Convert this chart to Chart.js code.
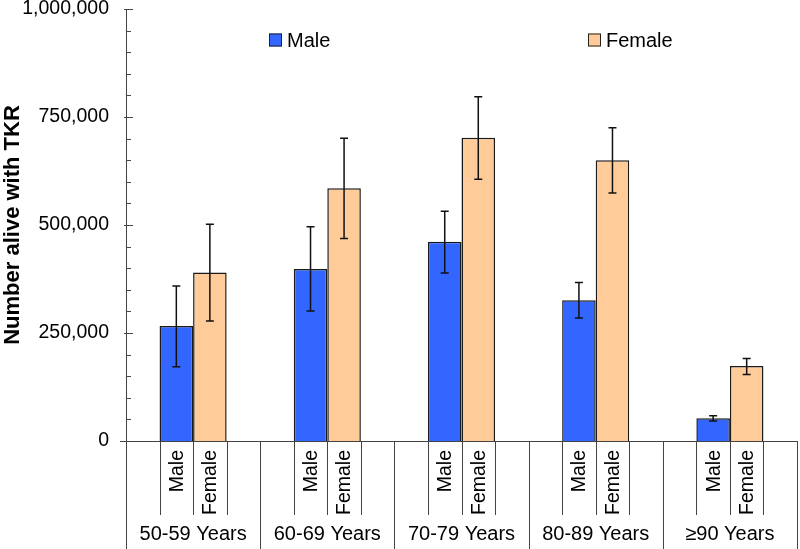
<!DOCTYPE html>
<html>
<head>
<meta charset="utf-8">
<script src="https://cdn.jsdelivr.net/npm/chart.js@4/dist/chart.umd.min.js"></script>
<style>
  html, body { margin: 0; padding: 0; background: #fff; }
  #wrap { width: 800px; height: 549px; }
</style>
</head>
<body>
<div id="wrap"><canvas id="chart"></canvas></div>
<script>
var groups = ['50-59 Years', '60-69 Years', '70-79 Years', '80-89 Years', '\u226590 Years'];
var seriesNames = ['Male', 'Female'];
var maleValues = [266000, 398000, 461000, 326000, 52500];
var maleLow = [172000, 301000, 389000, 285000, 46300];
var maleHigh = [359000, 496000, 532000, 367000, 58600];
var femaleValues = [390000, 585000, 702000, 650000, 173600];
var femaleLow = [278000, 469000, 606000, 574000, 154000];
var femaleHigh = [502000, 701000, 797000, 725000, 191000];
var yTicks = [0, 250000, 500000, 750000, 1000000];

var FONT = "'Liberation Sans', Arial, sans-serif";
var AXIS = '#444';

// error bars on top of the bars
var errorBars = {
	id: 'errorBars',
	afterDatasetsDraw: function(chart) {
		var ctx = chart.ctx, y = chart.scales.y;
		var ranges = [[maleLow, maleHigh], [femaleLow, femaleHigh]];
		ctx.save();
		ctx.strokeStyle = '#111';
		ctx.lineWidth = 1.5;
		chart.data.datasets.forEach(function(ds, di) {
			chart.getDatasetMeta(di).data.forEach(function(bar, i) {
				var yl = y.getPixelForValue(ranges[di][0][i]);
				var yh = y.getPixelForValue(ranges[di][1][i]);
				ctx.beginPath();
				ctx.moveTo(bar.x, yl); ctx.lineTo(bar.x, yh);
				ctx.moveTo(bar.x - 4, yl); ctx.lineTo(bar.x + 4, yl);
				ctx.moveTo(bar.x - 4, yh); ctx.lineTo(bar.x + 4, yh);
				ctx.stroke();
			});
		});
		ctx.restore();
	}
};

// inward tick marks, two-level category boxes and the legend
var decorations = {
	id: 'decorations',
	afterDraw: function(chart) {
		var ctx = chart.ctx, area = chart.chartArea;
		var x = chart.scales.x, y = chart.scales.y;
		ctx.save();
		ctx.strokeStyle = AXIS;
		ctx.lineWidth = 1;

		// y tick marks
		for (var v = 0; v <= 1000000; v += 50000) {
			var py = Math.round(y.getPixelForValue(v)) + 0.5;
			var major = v % 250000 === 0;
			ctx.beginPath();
			ctx.moveTo(area.left - (major ? 2 : 0), py);
			ctx.lineTo(area.left + (major ? 7 : 5), py);
			ctx.stroke();
		}
		// 0 tick stub left of the axis
		var y0 = Math.round(y.getPixelForValue(0)) + 0.5;
		ctx.beginPath();
		ctx.moveTo(area.left - 6, y0); ctx.lineTo(area.left, y0);
		ctx.stroke();

		var bottom = chart.height;
		var subBottom = area.bottom + 74;
		var meta0 = chart.getDatasetMeta(0), meta1 = chart.getDatasetMeta(1);

		groups.forEach(function(g, i) {
			var c = x.getPixelForValue(i);
			var half = (x.getPixelForValue(1) - x.getPixelForValue(0)) / 2;
			var left = Math.round(c - half) + 0.5, right = Math.round(c + half) + 0.5;
			ctx.beginPath();
			ctx.moveTo(left, area.bottom); ctx.lineTo(left, bottom);
			ctx.moveTo(right, area.bottom); ctx.lineTo(right, bottom);
			ctx.stroke();

			var m = meta0.data[i], f = meta1.data[i];
			var edges = [m.x - m.width / 2, m.x + m.width / 2, f.x + f.width / 2];
			edges.forEach(function(ex) {
				ex = Math.round(ex) + 0.5;
				ctx.beginPath();
				ctx.moveTo(ex, area.bottom); ctx.lineTo(ex, subBottom);
				ctx.stroke();
			});

			ctx.fillStyle = '#000';
			ctx.font = '19.5px ' + FONT;
			[m, f].forEach(function(b, k) {
				ctx.save();
				ctx.translate(b.x + 1, area.bottom + 9);
				ctx.rotate(-Math.PI / 2);
				ctx.textAlign = 'right';
				ctx.textBaseline = 'middle';
				ctx.fillText(seriesNames[k], 0, 0);
				ctx.restore();
			});

			ctx.textAlign = 'center';
			ctx.textBaseline = 'middle';
			ctx.font = '20px ' + FONT;
			ctx.fillText(g, c, area.bottom + 93);
		});

		// legend
		var items = [
			{ text: seriesNames[0], color: chart.data.datasets[0].backgroundColor, x: 269 },
			{ text: seriesNames[1], color: chart.data.datasets[1].backgroundColor, x: 588 }
		];
		var ly = 40;
		ctx.font = '20px ' + FONT;
		ctx.textAlign = 'left';
		ctx.textBaseline = 'middle';
		items.forEach(function(it) {
			ctx.fillStyle = it.color;
			ctx.fillRect(it.x, ly - 6.5, 13, 13);
			ctx.strokeStyle = '#222';
			ctx.strokeRect(it.x + 0.5, ly - 6, 12, 12);
			ctx.fillStyle = '#000';
			ctx.fillText(it.text, it.x + 18, ly + 1);
		});
		ctx.restore();
	}
};

new Chart(document.getElementById('chart'), {
	type: 'bar',
	data: {
		labels: groups,
		datasets: [
			{
				label: seriesNames[0],
				data: maleValues,
				backgroundColor: '#3366ff',
				borderColor: '#1a1a1a',
				borderWidth: 1.5,
				categoryPercentage: 0.5,
				barPercentage: 1.0
			},
			{
				label: seriesNames[1],
				data: femaleValues,
				backgroundColor: '#ffcc99',
				borderColor: '#1a1a1a',
				borderWidth: 1.5,
				categoryPercentage: 0.5,
				barPercentage: 1.0
			}
		]
	},
	options: {
		responsive: true,
		maintainAspectRatio: false,
		animation: false,
		layout: { padding: { top: 0, right: 3, left: 0, bottom: 0 } },
		plugins: {
			legend: { display: false },
			tooltip: { enabled: false }
		},
		scales: {
			x: {
				grid: { display: false, drawTicks: false },
				ticks: { display: false },
				border: { display: true, color: AXIS, width: 1 },
				afterFit: function(scale) { scale.height = 108; }
			},
			y: {
				min: 0,
				max: 1000000,
				afterBuildTicks: function(scale) {
					scale.ticks = yTicks.map(function(v) { return { value: v }; });
				},
				grid: { display: false, drawTicks: false },
				border: { display: true, color: AXIS, width: 1 },
				ticks: {
					padding: 17,
					color: '#000',
					font: { family: FONT, size: 19.5 },
					callback: function(v) { return v.toLocaleString('en-US'); }
				},
				title: {
					display: true,
					text: 'Number alive with TKR',
					color: '#000',
					font: { family: FONT, size: 22, weight: 'bold' },
					padding: { top: 0, bottom: 0 }
				},
				afterFit: function(scale) {
					scale.width = 126;
					scale.paddingTop = 9;
				}
			}
		}
	},
	plugins: [errorBars, decorations]
});
</script>
</body>
</html>
